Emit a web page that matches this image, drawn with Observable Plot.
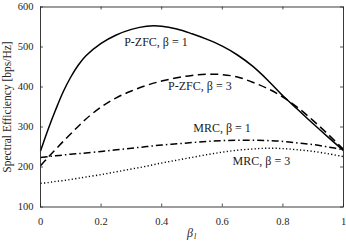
<!DOCTYPE html>
<html>
<head>
<meta charset="utf-8">
<script src="https://cdn.jsdelivr.net/npm/d3@7"></script>
<script src="https://cdn.jsdelivr.net/npm/@observablehq/plot@0.6"></script>
<style>
  html, body { margin: 0; padding: 0; background: #fff; }
  #chart svg { display: block; }
</style>
</head>
<body>
<div id="chart"></div>
<script>
const betaL = [0, 0.025, 0.05, 0.075, 0.1, 0.125, 0.15, 0.2, 0.25, 0.3, 0.35, 0.4, 0.45, 0.5,
  0.55, 0.6, 0.65, 0.7, 0.75, 0.8, 0.85, 0.9, 0.95, 1.0];
const pzfcBeta1 = [240, 294, 343, 388, 425, 455, 478, 509, 530, 544, 552, 552, 545, 533,
  519, 502, 480, 452, 417, 378, 343, 308, 274, 241];
const pzfcBeta3 = [203, 224, 244, 264, 283, 302, 320, 350, 373, 390, 404, 415, 423, 429,
  432, 431, 425, 412, 396, 375, 348, 316, 281, 244];
const mrcBeta1 = [224, 226, 228, 230, 232, 233.5, 235, 239, 243, 247, 251, 255, 258, 261,
  264, 266, 267, 267, 266, 264, 260, 256, 250, 243];
const mrcBeta3 = [159, 161, 164, 166, 169, 172, 175, 181, 188, 195, 202, 210, 217, 224,
  231, 237, 242, 245, 247, 246, 243, 239, 233, 226];

const seriesNames = ["P-ZFC, β = 1", "P-ZFC, β = 3", "MRC, β = 1", "MRC, β = 3"];
const xTicks = [0, 0.2, 0.4, 0.6, 0.8, 1];
const yTicks = [100, 200, 300, 400, 500, 600];

const seriesValues = [pzfcBeta1, pzfcBeta3, mrcBeta1, mrcBeta3];
const dashes = [null, "8,4.5", "7,3,1.5,3", "1.2,2.3"];
const widths = [1.5, 1.5, 1.5, 1.4];

const xDomain = [0, 1], yDomain = [100, 600];
const W = 346, H = 243, mL = 40, mR = 3, mT = 6.5, mB = 36.5;
const tickPx = 3;
const tickY = tickPx * (yDomain[1] - yDomain[0]) / (H - mT - mB);
const tickX = tickPx * (xDomain[1] - xDomain[0]) / (W - mL - mR);

const labelPos = [
  {name: seriesNames[0], x: 0.381, y: 511},
  {name: seriesNames[1], x: 0.526, y: 401},
  {name: seriesNames[2], x: 0.599, y: 296},
  {name: seriesNames[3], x: 0.729, y: 214}
];

const axisColor = "#262626";
const serif = "'Liberation Serif', 'Times New Roman', serif";

const lineMarks = seriesValues.map((vals, i) =>
  Plot.line(betaL.map((b, j) => ({b, v: vals[j]})), {
    x: "b", y: "v", stroke: "#000", strokeWidth: widths[i],
    strokeDasharray: dashes[i], curve: "catmull-rom", strokeLinecap: "butt"
  })
);

const chart = Plot.plot({
  width: W, height: H,
  marginLeft: mL, marginRight: mR, marginTop: mT, marginBottom: mB,
  style: {fontSize: "10px", fontFamily: serif, color: axisColor, background: "#fff"},
  x: {domain: xDomain, ticks: xTicks, label: null},
  y: {domain: yDomain, ticks: yTicks, label: null},
  marks: [
    Plot.axisX(xTicks, {tickSize: 0, tickPadding: 11, fontSize: 10.5, fill: axisColor, tickFormat: d => String(d)}),
    Plot.axisY(yTicks, {tickSize: 0, tickPadding: 7, fontSize: 10.5, fill: axisColor}),
    Plot.ruleX(xTicks, {x: d => d, y1: yDomain[0], y2: yDomain[0] + tickY, stroke: axisColor, strokeWidth: 0.8}),
    Plot.ruleX(xTicks, {x: d => d, y1: yDomain[1] - tickY, y2: yDomain[1], stroke: axisColor, strokeWidth: 0.8}),
    Plot.ruleY(yTicks, {y: d => d, x1: xDomain[0], x2: xDomain[0] + tickX, stroke: axisColor, strokeWidth: 0.8}),
    Plot.ruleY(yTicks, {y: d => d, x1: xDomain[1] - tickX, x2: xDomain[1], stroke: axisColor, strokeWidth: 0.8}),
    ...lineMarks,
    Plot.frame({stroke: axisColor, strokeWidth: 0.9}),
    Plot.text(labelPos, {x: "x", y: "y", text: "name", fontSize: 12, fill: "#1a1a1a"}),
    Plot.text(["Spectral Efficiency [bps/Hz]"], {frameAnchor: "left", textAnchor: "middle", dx: -33, rotate: -90, fontSize: 11.5, fill: axisColor}),
    Plot.text(["β"], {frameAnchor: "bottom", dy: 30, dx: -2, fontSize: 12, fontStyle: "italic", fill: axisColor}),
    Plot.text(["l"], {frameAnchor: "bottom", dy: 32, dx: 3, fontSize: 8, fontStyle: "italic", fill: axisColor})
  ]
});
d3.select(chart).selectAll("text").style("font-family", serif);
document.getElementById("chart").appendChild(chart);
</script>
</body>
</html>
